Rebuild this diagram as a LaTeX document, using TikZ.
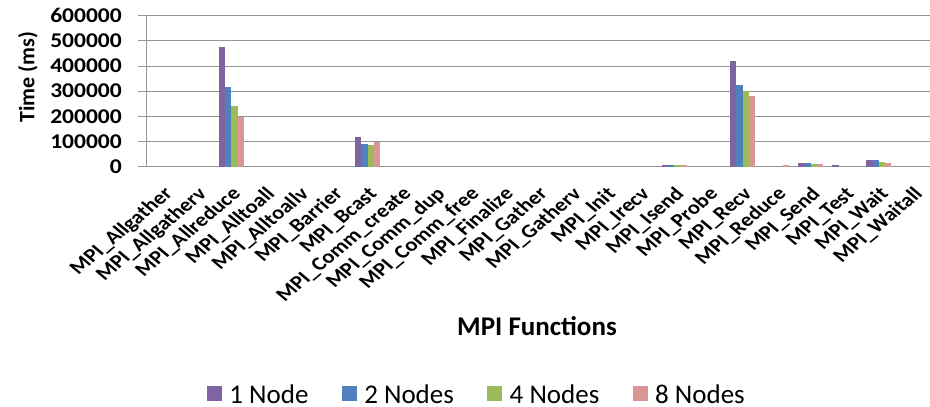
\documentclass[tikz,border=0pt]{standalone}
\usepackage{fontspec}
\setmainfont{Carlito}
\usepackage{tikz}
\usetikzlibrary{positioning}

\definecolor{oneC}{HTML}{8064A2}
\definecolor{twoC}{HTML}{4F81BD}
\definecolor{fourC}{HTML}{9BBB59}
\definecolor{eightC}{HTML}{D99694}
\definecolor{gridgray}{HTML}{959595}

\begin{document}
\begin{tikzpicture}[
    x=1pt, y=1pt,
    gridline/.style={draw=gridgray, line width=1pt},
    ytick/.style={anchor=east, xscale=1.12, inner sep=0pt, font=\bfseries\fontsize{21}{23}\selectfont},
    xlab/.style={anchor=east, xscale=1.19, rotate=45, inner sep=0pt, text height=13pt, text depth=4pt, font=\bfseries\fontsize{19}{20}\selectfont},
    onebar/.style={fill=oneC},
    twobar/.style={fill=twoC},
    fourbar/.style={fill=fourC},
    eightbar/.style={fill=eightC},
    legbox/.style={rectangle, minimum size=15pt, inner sep=0pt},
    legtext/.style={inner sep=0pt, font=\fontsize{27}{29}\selectfont},
    node distance=7pt
]
\useasboundingbox (0,0) rectangle (930,407);

% plot area: one unit = one function, 100000 ms
\begin{scope}[shift={(146pt,240.3pt)}, x=34.09pt, y=25.17pt]
\draw[gridline] (-0.235,0) -- (23,0);
\draw[gridline] (-0.235,1) -- (23,1);
\draw[gridline] (-0.235,2) -- (23,2);
\draw[gridline] (-0.235,3) -- (23,3);
\draw[gridline] (-0.235,4) -- (23,4);
\draw[gridline] (-0.235,5) -- (23,5);
\draw[gridline] (-0.235,6) -- (23,6);
\draw[gridline] (0,0) -- (0,6);

\node[ytick] (t0) at (-0.704,0) {0};
\node[ytick] (t1) at (-0.704,1) {100000};
\node[ytick] (t2) at (-0.704,2) {200000};
\node[ytick] (t3) at (-0.704,3) {300000};
\node[ytick] (t4) at (-0.704,4) {400000};
\node[ytick] (t5) at (-0.704,5) {500000};
\node[ytick] (t6) at (-0.704,6) {600000};

% bars
\fill[onebar]   (2.134,0)  rectangle ++(0.1835,4.74);
\fill[twobar]   (2.3175,0) rectangle ++(0.1835,3.18);
\fill[fourbar]  (2.501,0)  rectangle ++(0.1835,2.42);
\fill[eightbar] (2.6845,0) rectangle ++(0.1835,1.96);

\fill[onebar]   (6.134,0)  rectangle ++(0.1835,1.18);
\fill[twobar]   (6.3175,0) rectangle ++(0.1835,0.90);
\fill[fourbar]  (6.501,0)  rectangle ++(0.1835,0.86);
\fill[eightbar] (6.6845,0) rectangle ++(0.1835,0.97);

\fill[onebar]   (15.134,0)  rectangle ++(0.1835,0.066);
\fill[twobar]   (15.3175,0) rectangle ++(0.1835,0.066);
\fill[fourbar]  (15.501,0)  rectangle ++(0.1835,0.06);
\fill[eightbar] (15.6845,0) rectangle ++(0.1835,0.06);

\fill[onebar]   (17.134,0)  rectangle ++(0.1835,4.21);
\fill[twobar]   (17.3175,0) rectangle ++(0.1835,3.23);
\fill[fourbar]  (17.501,0)  rectangle ++(0.1835,3.01);
\fill[eightbar] (17.6845,0) rectangle ++(0.1835,2.82);

\fill[eightbar] (18.6845,0) rectangle ++(0.1835,0.05);

\fill[onebar]   (19.134,0)  rectangle ++(0.1835,0.145);
\fill[twobar]   (19.3175,0) rectangle ++(0.1835,0.145);
\fill[fourbar]  (19.501,0)  rectangle ++(0.1835,0.105);
\fill[eightbar] (19.6845,0) rectangle ++(0.1835,0.105);

\fill[onebar]   (20.134,0)  rectangle ++(0.1835,0.08);

\fill[onebar]   (21.134,0)  rectangle ++(0.1835,0.25);
\fill[twobar]   (21.3175,0) rectangle ++(0.1835,0.25);
\fill[fourbar]  (21.501,0)  rectangle ++(0.1835,0.20);
\fill[eightbar] (21.6845,0) rectangle ++(0.1835,0.16);

% function names
\node[xlab] (allgather)  at (0.70,-1)  {MPI\_Allgather};
\node[xlab] (allgatherv) at (1.70,-1)  {MPI\_Allgatherv};
\node[xlab] (allreduce)  at (2.70,-1)  {MPI\_Allreduce};
\node[xlab] (alltoall)   at (3.70,-1)  {MPI\_Alltoall};
\node[xlab] (alltoallv)  at (4.70,-1)  {MPI\_Alltoallv};
\node[xlab] (barrier)    at (5.70,-1)  {MPI\_Barrier};
\node[xlab] (bcast)      at (6.70,-1)  {MPI\_Bcast};
\node[xlab] (commcreate) at (7.70,-1)  {MPI\_Comm\_create};
\node[xlab] (commdup)    at (8.70,-1)  {MPI\_Comm\_dup};
\node[xlab] (commfree)   at (9.70,-1)  {MPI\_Comm\_free};
\node[xlab] (finalize)   at (10.70,-1) {MPI\_Finalize};
\node[xlab] (gather)     at (11.70,-1) {MPI\_Gather};
\node[xlab] (gatherv)    at (12.70,-1) {MPI\_Gatherv};
\node[xlab] (init)       at (13.70,-1) {MPI\_Init};
\node[xlab] (irecv)      at (14.70,-1) {MPI\_Irecv};
\node[xlab] (isend)      at (15.70,-1) {MPI\_Isend};
\node[xlab] (probe)      at (16.70,-1) {MPI\_Probe};
\node[xlab] (recv)       at (17.70,-1) {MPI\_Recv};
\node[xlab] (reduce)     at (18.70,-1) {MPI\_Reduce};
\node[xlab] (send)       at (19.70,-1) {MPI\_Send};
\node[xlab] (test)       at (20.70,-1) {MPI\_Test};
\node[xlab] (wait)       at (21.70,-1) {MPI\_Wait};
\node[xlab] (waitall)    at (22.70,-1) {MPI\_Waitall};
\end{scope}

% axis titles
\node[rotate=90, font=\bfseries\fontsize{22}{24}\selectfont] (ytitle) at (28,330) {Time (ms)};
\node[font=\bfseries\fontsize{27}{29}\selectfont] (xtitle) at (537,81) {MPI Functions};

% legend
\node[legbox, fill=oneC] (key1) at (214.5,13) {};
\node[legtext, right=of key1] (leg1) {1 Node};
\node[legbox, fill=twoC, right=33pt of leg1] (key2) {};
\node[legtext, right=of key2] (leg2) {2 Nodes};
\node[legbox, fill=fourC, right=33pt of leg2] (key3) {};
\node[legtext, right=of key3] (leg3) {4 Nodes};
\node[legbox, fill=eightC, right=33pt of leg3] (key4) {};
\node[legtext, right=of key4] (leg4) {8 Nodes};
\end{tikzpicture}
\end{document}
